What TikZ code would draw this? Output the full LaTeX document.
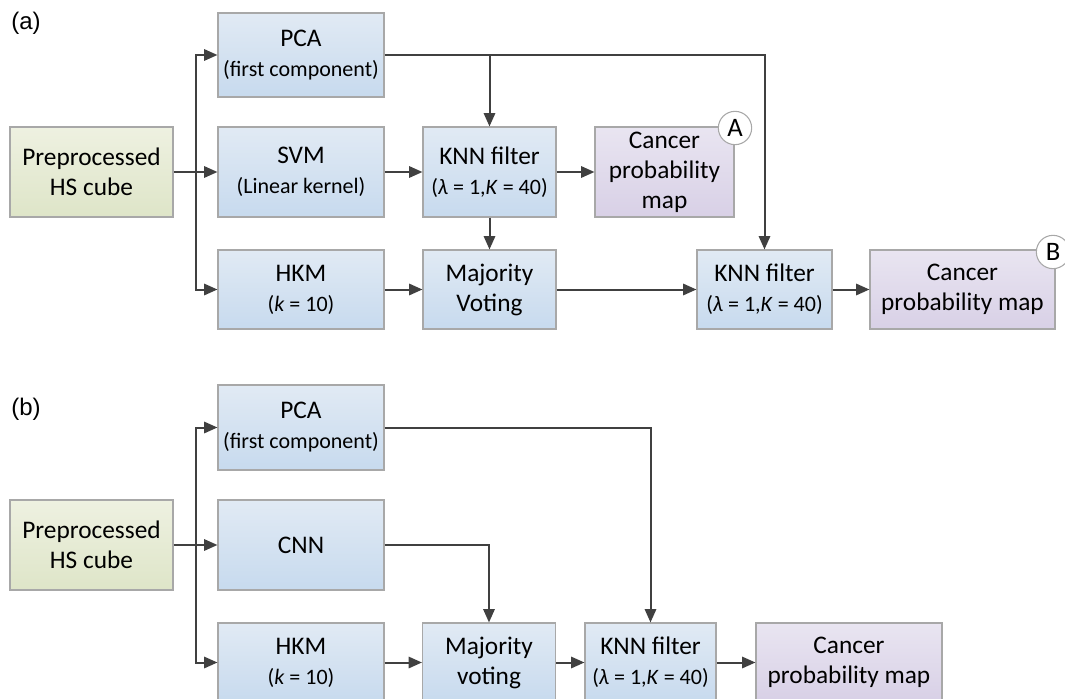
\documentclass[tikz,border=0pt]{standalone}
\usepackage{fontspec}
\setmainfont{Carlito}
\newfontfamily\panelfont{Liberation Sans}
\usetikzlibrary{arrows.meta}

\definecolor{arrgray}{HTML}{404040}
\definecolor{edgegray}{HTML}{A8A8A8}
\definecolor{bluetop}{HTML}{E1EAF4}
\definecolor{bluebot}{HTML}{C7DAEE}
\definecolor{greentop}{HTML}{EEF1E1}
\definecolor{greenbot}{HTML}{DEE5C8}
\definecolor{purptop}{HTML}{E9E5F1}
\definecolor{purpbot}{HTML}{D8D0E6}

\newcommand{\bigtxt}{\fontsize{19}{22.5}\selectfont}
\newcommand{\subtxt}{\fontsize{16.5}{24}\selectfont}

\tikzset{
  box/.style={rectangle, draw=edgegray, line width=0.8pt, align=center, inner sep=0pt,
    font=\bigtxt},
  bluebox/.style={box, top color=bluetop, bottom color=bluebot},
  greenbox/.style={box, top color=greentop, bottom color=greenbot},
  purplebox/.style={box, top color=purptop, bottom color=purpbot},
  arr/.style={draw=arrgray, line width=1.5pt, -{Triangle[length=10pt,width=8.5pt]}},
  tagcircle/.style={circle, draw=edgegray, fill=white, line width=0.8pt, inner sep=0pt,
    minimum size=25pt, font=\fontsize{20}{20}\selectfont},
  panel/.style={font=\panelfont\fontsize{18}{18}\selectfont}
}

\begin{document}
\begin{tikzpicture}[x=0.75pt,y=-0.75pt]
\clip (0,0) rectangle (1065,699);

%% (a)
\node[panel] (labA) at (26,23) {(a)};
\node[greenbox, minimum width=122.25pt, minimum height=67.5pt] (preA) at (91.5,172) {Preprocessed\\HS cube};
\node[bluebox, minimum width=124.5pt, minimum height=63pt] (pcaA) at (301,55) {PCA\\{\subtxt (first component)}};
\node[bluebox, minimum width=124.5pt, minimum height=67.5pt] (svmA) at (301,172) {SVM\\{\subtxt (Linear kernel)}};
\node[bluebox, minimum width=124.5pt, minimum height=59.25pt] (hkmA) at (301,289.5) {HKM\\{\subtxt (\textit{k} = 10)}};
\node[bluebox, minimum width=99.75pt, minimum height=67.5pt] (knnA) at (489.5,172) {KNN filter\\{\subtxt (\textit{λ} = 1,\textit{K} = 40)}};
\node[purplebox, minimum width=104.25pt, minimum height=67.5pt] (mapA) at (664.5,172) {Cancer\\probability\\map};
\node[bluebox, minimum width=99.75pt, minimum height=59.25pt] (voteA) at (489.5,289.5) {Majority\\Voting};
\node[bluebox, minimum width=101.25pt, minimum height=59.25pt] (knnAA) at (764.5,289.5) {KNN filter\\{\subtxt (\textit{λ} = 1,\textit{K} = 40)}};
\node[purplebox, minimum width=138.75pt, minimum height=59.25pt] (mapAB) at (962.5,289.5) {Cancer\\probability map};
\node[tagcircle] (tagA) at (735,128) {A};
\node[tagcircle] (tagB) at (1053,252) {B};

\coordinate (splitA) at (196,172);
\draw[arr] (preA) -- (svmA);
\draw[arr] (splitA) |- (pcaA);
\draw[arr] (splitA) |- (hkmA);
\draw[arr] (pcaA) -| (knnAA);
\draw[arr] (pcaA.east -| knnA) -- (knnA);
\draw[arr] (svmA) -- (knnA);
\draw[arr] (knnA) -- (mapA);
\draw[arr] (knnA) -- (voteA);
\draw[arr] (hkmA) -- (voteA);
\draw[arr] (voteA) -- (knnAA);
\draw[arr] (knnAA) -- (mapAB);

%% (b)
\node[panel] (labB) at (26,409) {(b)};
\node[greenbox, minimum width=122.25pt, minimum height=67.5pt] (preB) at (91.5,545) {Preprocessed\\HS cube};
\node[bluebox, minimum width=124.5pt, minimum height=63.75pt] (pcaB) at (301,427.5) {PCA\\{\subtxt (first component)}};
\node[bluebox, minimum width=124.5pt, minimum height=67.5pt] (cnnB) at (301,545) {CNN};
\node[bluebox, minimum width=124.5pt, minimum height=59.25pt] (hkmB) at (301,662.5) {HKM\\{\subtxt (\textit{k} = 10)}};
\node[bluebox, minimum width=99.75pt, minimum height=59.25pt] (voteB) at (489,662.5) {Majority\\voting};
\node[bluebox, minimum width=98.25pt, minimum height=59.25pt] (knnB) at (650.5,662.5) {KNN filter\\{\subtxt (\textit{λ} = 1,\textit{K} = 40)}};
\node[purplebox, minimum width=139.5pt, minimum height=59.25pt] (mapB) at (849,662.5) {Cancer\\probability map};

\coordinate (splitB) at (196,545);
\draw[arr] (preB) -- (cnnB);
\draw[arr] (splitB) |- (pcaB);
\draw[arr] (splitB) |- (hkmB);
\draw[arr] (pcaB) -| (knnB);
\draw[arr] (cnnB) -| (voteB);
\draw[arr] (hkmB) -- (voteB);
\draw[arr] (voteB) -- (knnB);
\draw[arr] (knnB) -- (mapB);
\end{tikzpicture}
\end{document}
